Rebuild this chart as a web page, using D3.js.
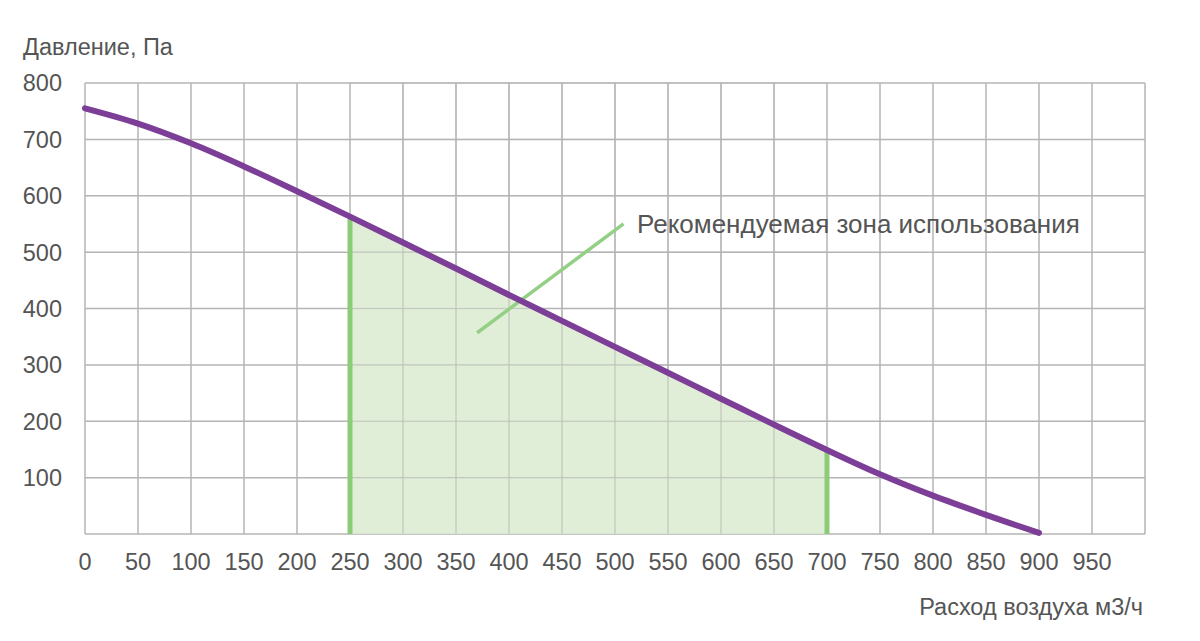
<!DOCTYPE html>
<html><head><meta charset="utf-8">
<script src="https://cdn.jsdelivr.net/npm/d3@7"></script>
<style>body{margin:0;background:#fff;} svg{display:block;}</style>
</head><body>
<script>
const flow = [0,50,100,150,200,250,300,350,400,450,500,550,600,650,700,750,800,850,900];
const pressure = [755,728,693,652,608,563,517,471,424,378,332,286,240,194,149,106,68,34,2];
const xTicks = [0,50,100,150,200,250,300,350,400,450,500,550,600,650,700,750,800,850,900,950];
const yTicks = [100,200,300,400,500,600,700,800];
const zone = [250,700];
const annotation = "Рекомендуемая зона использования";
const yTitle = "Давление, Па";
const xTitle = "Расход воздуха м3/ч";

const W=1200,H=641;
const svg=d3.select("body").append("svg").attr("width",W).attr("height",H);
const x=d3.scaleLinear().domain([0,1000]).range([85,1145]);
const y=d3.scaleLinear().domain([0,800]).range([534,83]);
const font="'Liberation Sans', Arial, Helvetica, sans-serif";
const txt="#555";
const data=flow.map((f,i)=>({f,p:pressure[i]}));
const curve=d3.curveCatmullRom.alpha(0.5);

// grid
const g=svg.append("g").attr("stroke","#b4b4b4").attr("stroke-width",1.5);
xTicks.concat([1000]).forEach(t=>g.append("line").attr("x1",x(t)).attr("x2",x(t)).attr("y1",y(0)).attr("y2",y(800)));
[0].concat(yTicks).forEach(t=>g.append("line").attr("x1",x(0)).attr("x2",x(1000)).attr("y1",y(t)).attr("y2",y(t)));

// zone fill
const zoneData=data.filter(d=>d.f>=zone[0]&&d.f<=zone[1]);
svg.append("path").datum(zoneData)
  .attr("d",d3.area().x(d=>x(d.f)).y0(y(0)).y1(d=>y(d.p)).curve(curve))
  .attr("fill","#dcebd0").attr("fill-opacity",0.85);
const g2=svg.append("g").attr("stroke","#b4b4b4").attr("stroke-width",1.2).attr("stroke-opacity",0.55);
xTicks.filter(t=>t>zone[0]&&t<zone[1]).forEach(t=>g2.append("line").attr("x1",x(t)).attr("x2",x(t)).attr("y1",y(0)).attr("y2",y(800)));
yTicks.forEach(t=>g2.append("line").attr("x1",x(zone[0])).attr("x2",x(zone[1])).attr("y1",y(t)).attr("y2",y(t)));

// zone vertical lines
zone.forEach(z=>{
  const p=data.find(d=>d.f===z).p;
  svg.append("line").attr("x1",x(z)).attr("x2",x(z)).attr("y1",y(0)).attr("y2",y(p))
    .attr("stroke","#8ccb78").attr("stroke-width",5);
});

// annotation leader
svg.append("line").attr("x1",x(370)).attr("y1",y(357)).attr("x2",x(508)).attr("y2",y(550))
  .attr("stroke","#93cf84").attr("stroke-width",3.5);
svg.append("text").attr("x",637).attr("y",233).attr("font-family",font).attr("font-size",26)
  .attr("fill",txt).text(annotation);

// curve
svg.append("path").datum(data)
  .attr("d",d3.line().x(d=>x(d.f)).y(d=>y(d.p)).curve(curve))
  .attr("fill","none").attr("stroke","#7d3e98").attr("stroke-width",6).attr("stroke-linecap","round");

// axes labels
const xa=svg.append("g").attr("font-family",font).attr("font-size",23.5).attr("fill",txt);
xTicks.forEach(t=>xa.append("text").attr("x",x(t)).attr("y",570).attr("text-anchor","middle").text(t));
yTicks.forEach(t=>xa.append("text").attr("x",62).attr("y",y(t)).attr("dy","0.36em").attr("text-anchor","end").text(t));
xa.append("text").attr("x",23).attr("y",55).text(yTitle);
xa.append("text").attr("x",1143).attr("y",615).attr("text-anchor","end").text(xTitle);
</script>
</body></html>
